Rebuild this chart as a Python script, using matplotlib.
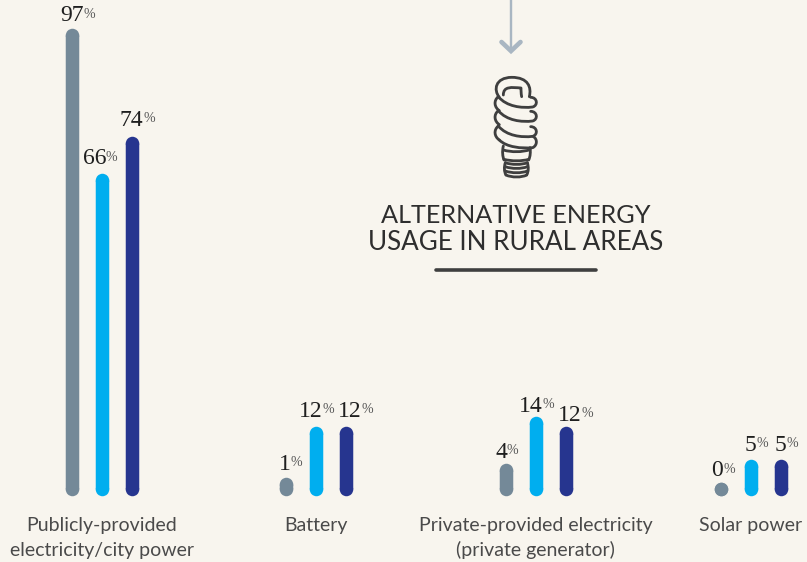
#!/usr/bin/env python3
"""Energy source usage: grouped rounded bars with an alternative energy callout."""

import matplotlib
matplotlib.use('Agg')
import matplotlib.pyplot as plt
from matplotlib.path import Path
from matplotlib.patches import PathPatch

# Data
categories = ['Publicly-provided\nelectricity/city power', 'Battery',
              'Private-provided electricity\n(private generator)', 'Solar power']
series_a = [97, 1, 4, 0]
series_b = [66, 12, 14, 5]
series_c = [74, 12, 12, 5]

# Layout and style (pixels unless noted)
W, H = 807, 562
BG = '#f8f5ee'
COLORS = ['#748998', '#00aeef', '#26358f']
TEXT = '#4a4a4a'
INK = '#3f3f3f'
ARROW = '#a9b6c2'
BAR_PX = 13.5
PX_PER_UNIT = 4.68
ZERO_Y = 489
GROUP_X = [101.5, 315.5, 535.5, 751]
SPREAD = 30
LABEL_DX = [[-11.5, -19, -12], [-7, -17, -8], [-10.5, -17, -8], [-9.5, -6.5, -6.5]]
LABEL_GAP = [[7, 9, 10], [8, 9, 9], [6, 5, 5], [6, 8, 8]]
PT = 72 / 100

fig = plt.figure(figsize=(W / 100, H / 100), dpi=100, facecolor=BG)

# Bars live on a percent y scale, the x scale is the picture's pixel width
ax = fig.add_axes([0, 0, 1, 1])
ax.set_xlim(0, W)
ax.set_ylim(-(H - ZERO_Y) / PX_PER_UNIT, ZERO_Y / PX_PER_UNIT)
ax.axis('off')

for g, gx in enumerate(GROUP_X):
    values = [series_a[g], series_b[g], series_c[g]]
    for s, v in enumerate(values):
        x = gx + (s - 1) * SPREAD
        # butt line with a circle at each end, so that a 0 still draws a dot
        ax.plot([x, x], [0, v], color=COLORS[s], lw=BAR_PX * PT,
                solid_capstyle='butt', marker='o', ms=BAR_PX * PT, mew=0)
        num = ax.annotate(str(v), xy=(x, v),
                          xytext=(LABEL_DX[g][s] * PT, (LABEL_GAP[g][s] + BAR_PX / 2) * PT),
                          textcoords='offset points', ha='left', va='baseline',
                          family='Liberation Serif', fontsize=17, color='#1f1f1f')
        ax.annotate('%', xy=(1, 0.27), xycoords=num, ha='left', va='bottom',
                    family='Liberation Serif', fontsize=10, color='#555555')

# Everything decorative is placed in pixel coordinates
deco = fig.add_axes([0, 0, 1, 1])
deco.set_xlim(0, W)
deco.set_ylim(H, 0)
deco.axis('off')
deco.patch.set_alpha(0)

for gx, name in zip(GROUP_X, categories):
    for row, line in enumerate(name.split('\n')):
        deco.text(gx, 531 + row * 25, line, ha='center', va='baseline', family='Lato',
                  fontsize=14, color=TEXT)

deco.text(516, 223, 'ALTERNATIVE ENERGY', ha='center', va='baseline', family='Lato',
          fontsize=18.2, color='#2e2e2e')
deco.text(516, 250, 'USAGE IN RURAL AREAS', ha='center', va='baseline', family='Lato',
          fontsize=18.7, color='#2e2e2e')
deco.plot([436, 596], [270, 270], color=INK, lw=3.6 * PT, solid_capstyle='round')

# Arrow down to the bulb
deco.plot([511, 511], [0, 50], color=ARROW, lw=2.4 * PT, solid_capstyle='butt')
deco.plot([501.5, 511, 520.5], [42, 51, 42], color=ARROW, lw=4.6 * PT,
          solid_capstyle='round', solid_joinstyle='miter')


def stroke(points, lw=2.8):
    """Stroke a chain of cubic segments given in reference zoom coordinates."""
    pts = [(440 + px / 3, py / 3) for px, py in points]
    codes = [Path.MOVETO] + [Path.CURVE4] * (len(pts) - 1)
    deco.add_patch(PathPatch(Path(pts, codes), fill=False, edgecolor=INK, lw=lw * PT,
                             capstyle='round', joinstyle='round'))


# Bulb: top loop
stroke([(178, 292), (160, 270), (165, 233), (215, 232),
        (265, 232), (275, 262), (268, 290)])
stroke([(190, 285), (190, 258), (215, 262), (243, 264), (243, 270), (243, 280), (245, 290)])
# Bulb: spiral turns, each a lower edge plus its right and left bends
for y in [290, 332, 378]:
    stroke([(175, y), (200, y + 30), (245, y + 35), (278, y + 31),
            (295, y + 26), (292, y + 2), (272, y + 2)])
    stroke([(175, y), (160, y + 12), (163, y + 32), (178, y + 42)])
stroke([(178, 420), (200, 442), (245, 446), (278, 443), (293, 436), (292, 416), (280, 410)])
# Bulb: neck and screw base
stroke([(190, 438), (186, 455), (188, 470), (192, 480)])
stroke([(270, 443), (272, 455), (271, 470), (266, 480)])
stroke([(190, 450), (215, 457), (245, 457), (270, 449)])
stroke([(192, 478), (215, 484), (245, 484), (266, 478)])
stroke([(196, 488), (215, 495), (245, 495), (262, 488)])
for y in [500, 513]:
    stroke([(196, y), (215, y + 7), (245, y + 7), (262, y)])
stroke([(196, 488), (192, 500), (192, 515), (198, 525)])
stroke([(262, 488), (266, 500), (266, 515), (260, 525)])
stroke([(198, 525), (215, 533), (245, 533), (260, 525)])

fig.savefig('out.png', dpi=100, facecolor=BG)
